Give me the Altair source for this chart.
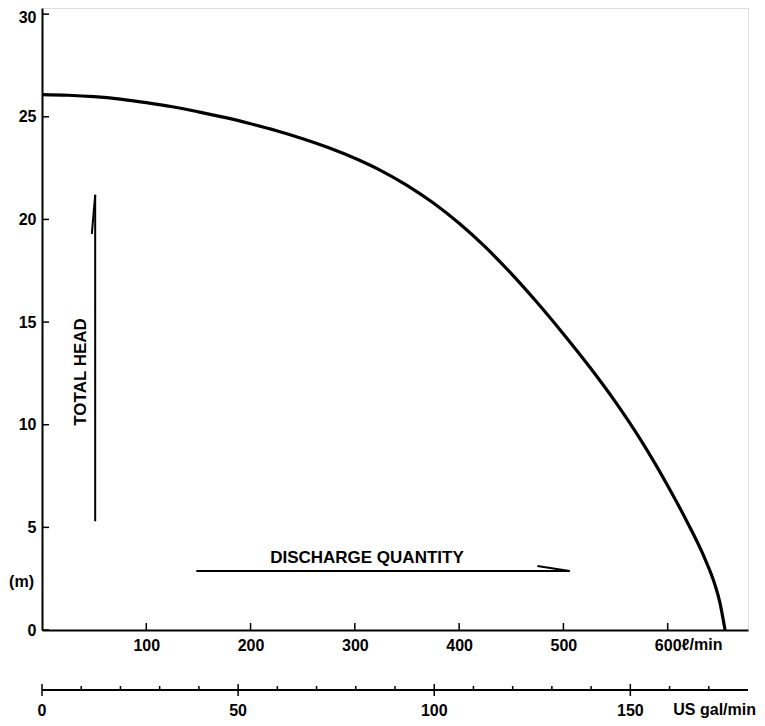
import altair as alt
import pandas as pd

# ---- data ----
flow_lpm = [0, 25, 50, 75, 100, 125, 150, 175, 200, 225, 250, 275, 300, 325, 350, 375,
            400, 425, 450, 475, 500, 525, 550, 575, 600, 620, 635, 645, 650, 655]
head_m = [26.08, 26.05, 25.98, 25.86, 25.69, 25.49, 25.24, 24.97, 24.66, 24.32, 23.93, 23.49,
          22.98, 22.38, 21.66, 20.81, 19.81, 18.66, 17.36, 15.94, 14.42, 12.82, 11.10, 9.19,
          7.03, 5.13, 3.55, 2.25, 1.35, 0.0]

y_ticks = [0, 5, 10, 15, 20, 25, 30]
x_ticks = [100, 200, 300, 400, 500, 600]
gal_major = [0, 50, 100, 150]
gal_minor = [10, 20, 30, 40, 60, 70, 80, 90, 110, 120, 130, 140, 160, 170]

# arrow segments (l/min, m)
arrow_x1 = [51, 51, 148, 506]
arrow_y1 = [5.3, 21.2, 2.87, 2.87]
arrow_x2 = [51, 47.8, 506, 475]
arrow_y2 = [21.2, 19.3, 2.87, 3.12]

W, H = 706, 622
XMAX = 677
YMAX = 30.3
GALMAX = 180
FONT = "Liberation Sans"
FS = 16

xs = alt.Scale(domain=[0, XMAX], nice=False, zero=False)
ys = alt.Scale(domain=[0, YMAX], nice=False, zero=False)
gs = alt.Scale(domain=[0, GALMAX], nice=False, zero=False)

curve = alt.Chart(pd.DataFrame({"q": flow_lpm, "h": head_m})).mark_line(
    color="black", strokeWidth=3.2, interpolate="monotone"
).encode(
    x=alt.X("q:Q", scale=xs, axis=alt.Axis(
        values=x_ticks, ticks=False, tickSize=0, grid=False, domainColor="black",
        domainWidth=2, labelFont=FONT, labelFontSize=FS, labelFontWeight="bold",
        labelColor="black", labelPadding=7, labelFlush=False, title=None)),
    y=alt.Y("h:Q", scale=ys, axis=alt.Axis(
        values=y_ticks, ticks=False, tickSize=0, grid=False, domainColor="black",
        domainWidth=2, labelFont=FONT, labelFontSize=FS, labelFontWeight="bold",
        labelColor="black", labelPadding=6, labelFlush=False, title=None,
        labelOffset={"condition": {"test": "datum.value === 30", "value": 3}, "value": 0})),
)

ytick_marks = alt.Chart(pd.DataFrame({"v": y_ticks})).mark_rule(color="black", strokeWidth=1.5).encode(
    y=alt.Y("v:Q", scale=ys), x=alt.value(0), x2=alt.value(7)
)
xtick_marks = alt.Chart(pd.DataFrame({"v": x_ticks})).mark_rule(color="black", strokeWidth=1.5).encode(
    x=alt.X("v:Q", scale=xs), y=alt.value(H), y2=alt.value(H - 7)
)

arrows = alt.Chart(pd.DataFrame({"x1": arrow_x1, "y1": arrow_y1, "x2": arrow_x2, "y2": arrow_y2})).mark_rule(
    color="black", strokeWidth=2
).encode(
    x=alt.X("x1:Q", scale=xs), x2="x2:Q", y=alt.Y("y1:Q", scale=ys), y2="y2:Q"
)

txt_style = dict(font=FONT, fontSize=FS, fontWeight="bold", color="black")
big_style = dict(font=FONT, fontSize=17, fontWeight="bold", color="black")

total_head = alt.Chart(pd.DataFrame({"x": [37.1], "y": [12.57], "t": ["TOTAL HEAD"]})).mark_text(
    angle=270, align="center", baseline="middle", **big_style
).encode(x=alt.X("x:Q", scale=xs), y=alt.Y("y:Q", scale=ys), text="t:N")

discharge = alt.Chart(pd.DataFrame({"x": [311.6], "y": [3.5], "t": ["DISCHARGE QUANTITY"]})).mark_text(
    align="center", baseline="middle", **big_style
).encode(x=alt.X("x:Q", scale=xs), y=alt.Y("y:Q", scale=ys), text="t:N")

m_label = alt.Chart(pd.DataFrame({"x": [0], "y": [2.34], "t": ["(m)"]})).mark_text(
    align="right", baseline="middle", dx=-8, **txt_style
).encode(x=alt.X("x:Q", scale=xs), y=alt.Y("y:Q", scale=ys), text="t:N")

lmin_label = alt.Chart(pd.DataFrame({"x": [600], "t": ["ℓ/min"]})).mark_text(
    align="left", baseline="top", dx=14, **txt_style
).encode(x=alt.X("x:Q", scale=xs), y=alt.value(H + 7), text="t:N")

main = alt.layer(curve, ytick_marks, xtick_marks, arrows, total_head, discharge, m_label, lmin_label)

# ---- US gal/min auxiliary scale ----
GY = 682
gal_line = alt.Chart(pd.DataFrame({"a": [0], "b": [GALMAX]})).mark_rule(color="black", strokeWidth=2).encode(
    x=alt.X("a:Q", scale=gs, axis=None), x2="b:Q", y=alt.value(GY)
)
gal_major_ticks = alt.Chart(pd.DataFrame({"g": gal_major})).mark_rule(color="black", strokeWidth=1.5).encode(
    x=alt.X("g:Q", scale=gs, axis=None), y=alt.value(GY - 6), y2=alt.value(GY + 6)
)
gal_minor_ticks = alt.Chart(pd.DataFrame({"g": gal_minor})).mark_rule(color="black", strokeWidth=1.5).encode(
    x=alt.X("g:Q", scale=gs, axis=None), y=alt.value(GY - 4), y2=alt.value(GY)
)
gal_labels = alt.Chart(pd.DataFrame({"g": gal_major, "t": [str(v) for v in gal_major]})).mark_text(
    align="center", baseline="middle", **txt_style
).encode(x=alt.X("g:Q", scale=gs, axis=None), y=alt.value(GY + 21), text="t:N")
gal_unit = alt.Chart(pd.DataFrame({"g": [GALMAX], "t": ["US gal/min"]})).mark_text(
    align="right", baseline="middle", dx=8, **txt_style
).encode(x=alt.X("g:Q", scale=gs, axis=None), y=alt.value(GY + 20), text="t:N")

gal = alt.layer(gal_line, gal_major_ticks, gal_minor_ticks, gal_labels, gal_unit)

chart = alt.layer(main, gal).resolve_scale(x="independent").properties(
    width=W, height=H,
    autosize=alt.AutoSizeParams(type="none"),
    padding={"left": 34, "top": 0, "right": 9, "bottom": 88},
).configure_view(stroke=None).configure(background="white")

chart.save("out.html", embed_options={"renderer": "svg", "actions": False})
